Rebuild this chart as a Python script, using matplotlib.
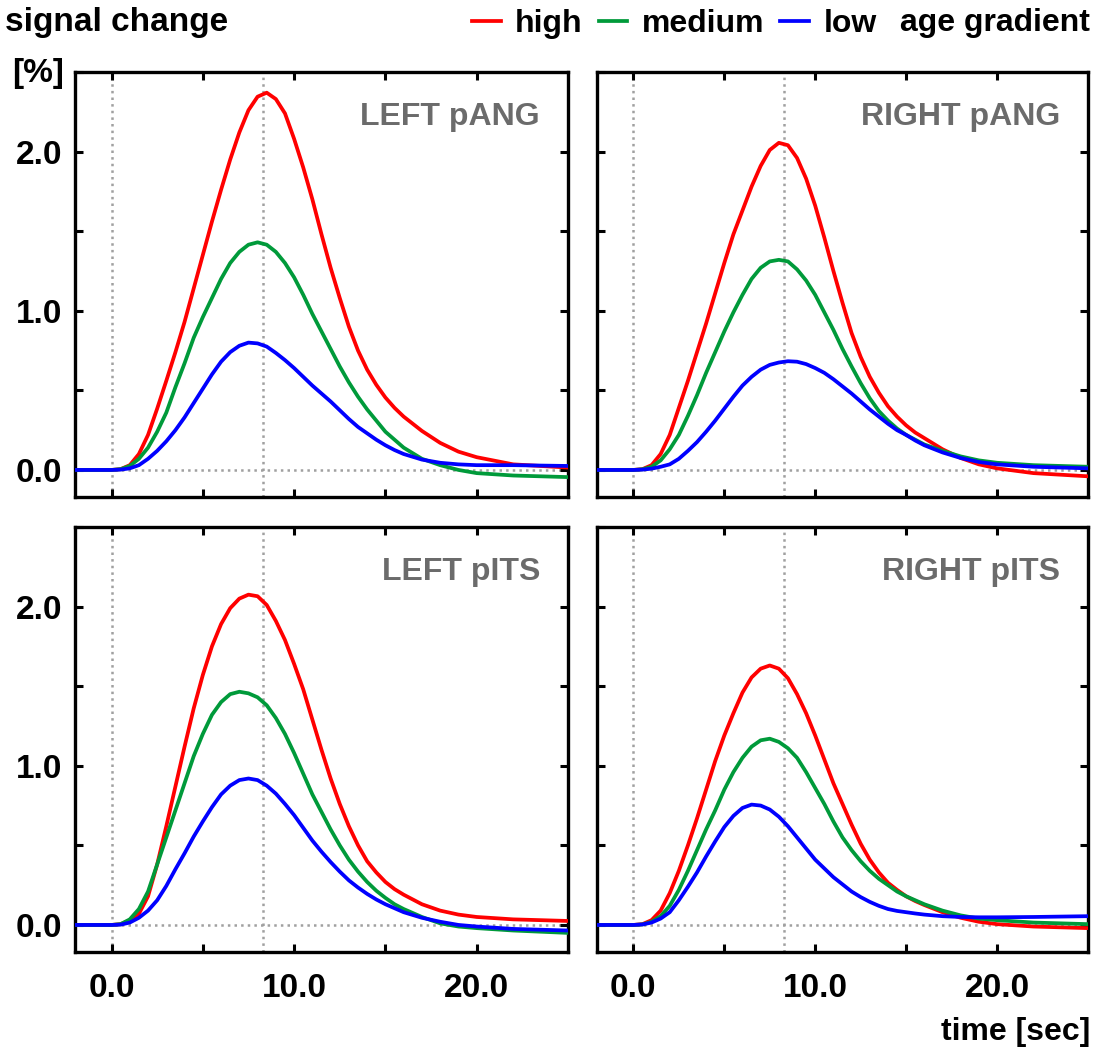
import matplotlib
matplotlib.use("Agg")
import matplotlib.pyplot as plt
from matplotlib.ticker import MultipleLocator, FixedLocator, FormatStrFormatter

plt.rcParams['font.family'] = ['Liberation Sans', 'DejaVu Sans']
plt.rcParams['font.weight'] = 'bold'

# time axis (sec), shared by all curves
time = [-2, 0, 0.5, 1, 1.5, 2, 2.5, 3, 3.5, 4, 4.5, 5, 5.5, 6, 6.5, 7, 7.5, 8,
        8.5, 9, 9.5, 10, 10.5, 11, 11.5, 12, 12.5, 13, 13.5, 14, 14.5, 15, 15.5, 16,
        17, 18, 19, 20, 22, 25]

# signal change [%] per panel and age gradient
left_pang_high = [0, 0, 0.005, 0.03, 0.10, 0.22, 0.385, 0.56, 0.74, 0.93, 1.14, 1.35, 1.56, 1.76,
                  1.95, 2.12, 2.26, 2.345, 2.37, 2.33, 2.24, 2.08, 1.90, 1.70, 1.48, 1.27,
                  1.08, 0.90, 0.75, 0.63, 0.535, 0.455, 0.39, 0.335,
                  0.245, 0.17, 0.115, 0.08, 0.035, 0.015]
left_pang_medium = [0, 0, 0.005, 0.025, 0.07, 0.14, 0.24, 0.36, 0.52, 0.67, 0.83, 0.96, 1.08, 1.20,
                    1.30, 1.37, 1.415, 1.43, 1.415, 1.37, 1.30, 1.21, 1.10, 0.98, 0.87, 0.76,
                    0.65, 0.55, 0.46, 0.38, 0.31, 0.24, 0.19, 0.14,
                    0.07, 0.03, 0.0, -0.02, -0.035, -0.045]
left_pang_low = [0, 0, 0.002, 0.01, 0.03, 0.07, 0.12, 0.18, 0.25, 0.33, 0.42, 0.51, 0.60, 0.68,
                 0.74, 0.78, 0.80, 0.795, 0.775, 0.735, 0.69, 0.64, 0.585, 0.53, 0.48, 0.43,
                 0.375, 0.32, 0.27, 0.23, 0.19, 0.155, 0.125, 0.10,
                 0.065, 0.045, 0.035, 0.03, 0.03, 0.025]

right_pang_high = [0, 0, 0.005, 0.03, 0.10, 0.22, 0.39, 0.56, 0.74, 0.92, 1.11, 1.30, 1.48, 1.63,
                   1.78, 1.91, 2.01, 2.055, 2.04, 1.96, 1.83, 1.66, 1.46, 1.25, 1.05, 0.86,
                   0.71, 0.585, 0.485, 0.40, 0.335, 0.28, 0.235, 0.20,
                   0.13, 0.075, 0.035, 0.01, -0.02, -0.04]
right_pang_medium = [0, 0, 0.004, 0.02, 0.06, 0.13, 0.22, 0.34, 0.47, 0.61, 0.74, 0.87, 0.99, 1.10,
                     1.20, 1.27, 1.31, 1.32, 1.31, 1.26, 1.19, 1.10, 0.99, 0.88, 0.76, 0.65,
                     0.545, 0.45, 0.37, 0.31, 0.26, 0.22, 0.19, 0.16,
                     0.12, 0.085, 0.06, 0.045, 0.03, 0.02]
right_pang_low = [0, 0, 0.002, 0.008, 0.02, 0.035, 0.07, 0.12, 0.175, 0.24, 0.31, 0.385, 0.46, 0.53,
                  0.585, 0.63, 0.66, 0.675, 0.683, 0.68, 0.665, 0.64, 0.61, 0.57, 0.525, 0.48,
                  0.43, 0.38, 0.335, 0.29, 0.25, 0.22, 0.185, 0.155,
                  0.11, 0.075, 0.05, 0.035, 0.02, 0.01]

left_pits_high = [0, 0, 0.005, 0.03, 0.07, 0.18, 0.38, 0.62, 0.87, 1.12, 1.36, 1.57, 1.75, 1.89,
                  1.99, 2.05, 2.075, 2.065, 2.01, 1.91, 1.79, 1.64, 1.48, 1.29, 1.10, 0.92,
                  0.76, 0.62, 0.50, 0.40, 0.33, 0.27, 0.225, 0.19,
                  0.13, 0.09, 0.065, 0.05, 0.035, 0.025]
left_pits_medium = [0, 0, 0.005, 0.035, 0.10, 0.21, 0.38, 0.55, 0.72, 0.89, 1.06, 1.20, 1.32, 1.40,
                    1.45, 1.465, 1.455, 1.43, 1.38, 1.30, 1.20, 1.08, 0.95, 0.82, 0.71, 0.60,
                    0.50, 0.41, 0.335, 0.27, 0.215, 0.17, 0.13, 0.10,
                    0.05, 0.01, -0.01, -0.02, -0.035, -0.05]
left_pits_low = [0, 0, 0.002, 0.015, 0.045, 0.09, 0.155, 0.245, 0.35, 0.45, 0.555, 0.65, 0.74, 0.82,
                 0.875, 0.91, 0.92, 0.91, 0.875, 0.825, 0.76, 0.69, 0.61, 0.53, 0.46, 0.395,
                 0.335, 0.28, 0.235, 0.195, 0.16, 0.13, 0.105, 0.08,
                 0.045, 0.02, 0.0, -0.01, -0.025, -0.035]

right_pits_high = [0, 0, 0.005, 0.03, 0.09, 0.20, 0.34, 0.50, 0.67, 0.85, 1.03, 1.19, 1.33, 1.46,
                   1.555, 1.61, 1.63, 1.61, 1.55, 1.45, 1.33, 1.19, 1.04, 0.89, 0.76, 0.63,
                   0.51, 0.41, 0.33, 0.265, 0.22, 0.18, 0.15, 0.125,
                   0.08, 0.045, 0.02, 0.005, -0.01, -0.02]
right_pits_medium = [0, 0, 0.003, 0.02, 0.055, 0.12, 0.22, 0.34, 0.47, 0.60, 0.72, 0.85, 0.96, 1.05,
                     1.12, 1.16, 1.17, 1.15, 1.11, 1.05, 0.96, 0.86, 0.76, 0.65, 0.55, 0.47,
                     0.40, 0.34, 0.29, 0.25, 0.21, 0.18, 0.155, 0.13,
                     0.09, 0.06, 0.04, 0.03, 0.015, 0.005]
right_pits_low = [0, 0, 0.003, 0.015, 0.04, 0.08, 0.155, 0.24, 0.33, 0.43, 0.525, 0.615, 0.685, 0.735,
                  0.756, 0.75, 0.725, 0.68, 0.62, 0.55, 0.48, 0.41, 0.355, 0.30, 0.255, 0.21,
                  0.175, 0.145, 0.12, 0.10, 0.088, 0.08, 0.072, 0.065,
                  0.055, 0.05, 0.048, 0.048, 0.05, 0.055]

panel_titles = ["LEFT pANG", "RIGHT pANG", "LEFT pITS", "RIGHT pITS"]
panel_data = [
    (left_pang_high, left_pang_medium, left_pang_low),
    (right_pang_high, right_pang_medium, right_pang_low),
    (left_pits_high, left_pits_medium, left_pits_low),
    (right_pits_high, right_pits_medium, right_pits_low),
]
group_labels = ["high", "medium", "low"]
group_colors = ["#ff0000", "#009a3a", "#0000ff"]
peak_marker = 8.3

W, H = 1101, 1049


def px_box(left, top, right, bottom):
    return [left / W, 1 - bottom / H, (right - left) / W, (bottom - top) / H]


def plot_panels():
    fig = plt.figure(figsize=(W / 100, H / 100), dpi=100)

    boxes = [px_box(75, 72, 568, 497), px_box(597, 72, 1088, 497),
             px_box(75, 527, 568, 952), px_box(597, 527, 1088, 952)]

    handles = []
    for i, (box, title, curves) in enumerate(zip(boxes, panel_titles, panel_data)):
        ax = fig.add_axes(box)
        # dotted guides: baseline, stimulus onset and peak time
        ax.axhline(0, color="#a0a0a0", lw=1.8, ls=":", zorder=1)
        ax.axvline(0, color="#a0a0a0", lw=1.8, ls=":", zorder=1)
        ax.axvline(peak_marker, color="#a0a0a0", lw=1.8, ls=":", zorder=1)

        lines = []
        for vals, lab, col in zip(curves, group_labels, group_colors):
            ln, = ax.plot(time, vals, color=col, lw=2.7, label=lab, zorder=3,
                          solid_joinstyle="round")
            lines.append(ln)
        if i == 0:
            handles = lines

        ax.set_xlim(-2, 25)
        ax.set_ylim(-0.17, 2.5)
        ax.xaxis.set_major_locator(FixedLocator([0, 10, 20]))
        ax.xaxis.set_minor_locator(FixedLocator([5, 15]))
        ax.yaxis.set_major_locator(MultipleLocator(1.0))
        ax.yaxis.set_minor_locator(MultipleLocator(0.5))
        ax.xaxis.set_major_formatter(FormatStrFormatter("%.1f"))
        ax.yaxis.set_major_formatter(FormatStrFormatter("%.1f"))
        ax.tick_params(which="both", direction="in", top=True, right=True,
                       length=6, width=2.2, labelsize=24)
        ax.tick_params(axis="x", pad=15)
        ax.tick_params(axis="y", pad=9)
        if i in (0, 1):
            ax.tick_params(axis="x", labelbottom=False)
        if i in (1, 3):
            ax.tick_params(axis="y", labelleft=False)
        for sp in ax.spines.values():
            sp.set_linewidth(2.4)

        ax.text(0.943, 0.876, title, transform=ax.transAxes, ha="right", va="baseline",
                fontsize=23, fontweight="bold", color="#6b6b6b")

    fig.text(5 / W, 1 - 31 / H, "signal change", fontsize=24, fontweight="bold",
             ha="left", va="baseline")
    fig.text(12 / W, 1 - 82 / H, "[%]", fontsize=24, fontweight="bold",
             ha="left", va="baseline")
    fig.text(1090 / W, 1 - 1040 / H, "time [sec]", fontsize=23, fontweight="bold",
             ha="right", va="baseline")

    fig.legend(handles, group_labels, loc="upper left", bbox_to_anchor=(472 / W, 1 - 9 / H),
               ncol=3, frameon=False, handlelength=0.9, handletextpad=0.45,
               columnspacing=0.5, borderpad=0, borderaxespad=0,
               prop={"size": 23, "weight": "bold"})
    fig.text(1090 / W, 1 - 31 / H, "age gradient", fontsize=23, fontweight="bold",
             ha="right", va="baseline")

    fig.savefig("out.png", dpi=100)


if __name__ == "__main__":
    plot_panels()
